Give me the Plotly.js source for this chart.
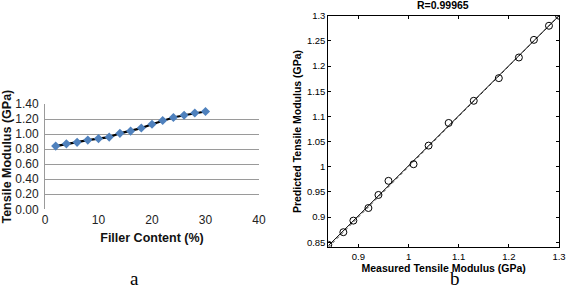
<!DOCTYPE html>
<html>
<head>
<meta charset="utf-8">
<script src="https://cdn.plot.ly/plotly-3.0.1.min.js"></script>
<style>html,body{margin:0;padding:0;background:#fff;}#chart{width:566px;height:291px;}</style>
</head>
<body>
<div id="chart"></div>
<script>
// Panel a: filler content vs tensile modulus
const fillerContent = [2, 4, 6, 8, 10, 12, 14, 16, 18, 20, 22, 24, 26, 28, 30];
const tensileModulus = [0.84, 0.87, 0.89, 0.92, 0.94, 0.96, 1.01, 1.04, 1.08, 1.13, 1.18, 1.22, 1.25, 1.28, 1.30];
const aYTicks = [0, 0.2, 0.4, 0.6, 0.8, 1.0, 1.2, 1.4];
const aXTicks = [0, 10, 20, 30, 40];

// Panel b: measured vs predicted
const measured = [0.84, 0.87, 0.89, 0.92, 0.94, 0.96, 1.01, 1.04, 1.08, 1.13, 1.18, 1.22, 1.25, 1.28, 1.30];
const predicted = [0.845, 0.870, 0.893, 0.918, 0.944, 0.972, 1.005, 1.042, 1.087, 1.131, 1.176, 1.217, 1.252, 1.280, 1.300];
const fitX = [0.84, 1.30];
const fitY = [0.843, 1.300];
const idealX = [0.84, 1.30];
const idealY = [0.84, 1.30];
const bXTicks = [0.9, 1.0, 1.1, 1.2, 1.3];
const bXLabels = ['0.9', '1', '1.1', '1.2', '1.3'];
const bYTicks = [0.85, 0.9, 0.95, 1.0, 1.05, 1.1, 1.15, 1.2, 1.25, 1.3];
const bYLabels = ['0.85', '0.9', '0.95', '1', '1.05', '1.1', '1.15', '1.2', '1.25', '1.3'];

const W = 566, H = 291;
const px = v => v / W;
const py = v => (H - v) / H;

const traces = [
  {x: fillerContent, y: tensileModulus, xaxis: 'x', yaxis: 'y', mode: 'lines+markers',
   line: {color: '#000', width: 2.2},
   marker: {symbol: 'diamond', size: 7, color: '#4f81bd', line: {width: 0}}, hoverinfo: 'none'},
  {x: idealX, y: idealY, xaxis: 'x2', yaxis: 'y2', mode: 'lines',
   line: {color: '#444', width: 1, dash: 'dot'}, hoverinfo: 'none'},
  {x: fitX, y: fitY, xaxis: 'x2', yaxis: 'y2', mode: 'lines',
   line: {color: '#000', width: 1}, hoverinfo: 'none'},
  {x: measured, y: predicted, xaxis: 'x2', yaxis: 'y2', mode: 'markers',
   marker: {symbol: 'circle-open', size: 7, color: '#000', line: {width: 1, color: '#000'}}, hoverinfo: 'none'}
];

const fontA = {family: 'Liberation Sans, Arial, sans-serif', size: 12, color: '#222'};
const fontB = {family: 'Liberation Sans, Arial, sans-serif', size: 9.5, color: '#000'};

const layout = {
  width: W, height: H,
  margin: {l: 0, r: 0, t: 0, b: 0},
  paper_bgcolor: '#fff', plot_bgcolor: 'rgba(0,0,0,0)',
  showlegend: false,
  xaxis: {
    domain: [px(45), px(259)], anchor: 'y',
    range: [0, 40], tickvals: aXTicks, ticks: '', showgrid: false, zeroline: false,
    showline: false, tickfont: fontA, ticklabelstandoff: 2,
    title: {text: '<b>Filler Content (%)</b>', font: {family: fontA.family, size: 12.5, color: '#111'}, standoff: 6}
  },
  yaxis: {
    domain: [py(209.3), py(104)], anchor: 'x',
    range: [0, 1.4], tickvals: aYTicks, tickformat: '.2f', ticks: '',
    showgrid: true, gridcolor: '#9a9a9a', gridwidth: 1, zeroline: false,
    showline: true, linecolor: '#9a9a9a', linewidth: 1, tickfont: fontA, ticklabelstandoff: 3,
    title: {text: '<b>Tensile Modulus (GPa)</b>', font: {family: fontA.family, size: 12.5, color: '#111'}, standoff: 2}
  },
  xaxis2: {
    domain: [px(328.3), px(559)], anchor: 'y2',
    range: [0.84, 1.30], tickvals: bXTicks, ticktext: bXLabels,
    ticks: 'inside', ticklen: 3, tickcolor: '#000', mirror: 'ticks',
    showline: true, linecolor: '#000', linewidth: 1, showgrid: false, zeroline: false,
    tickfont: fontB,
    title: {text: '<b>Measured Tensile Modulus (GPa)</b>', font: {family: fontB.family, size: 10.5, color: '#000'}, standoff: 1}
  },
  yaxis2: {
    domain: [py(247.3), py(15.7)], anchor: 'x2',
    range: [0.84, 1.30], tickvals: bYTicks, ticktext: bYLabels,
    ticks: 'inside', ticklen: 3, tickcolor: '#000', mirror: 'ticks',
    showline: true, linecolor: '#000', linewidth: 1, showgrid: false, zeroline: false,
    tickfont: fontB,
    title: {text: '<b>Predicted Tensile Modulus (GPa)</b>', font: {family: fontB.family, size: 10.5, color: '#000'}, standoff: 3}
  },
  annotations: [
    {text: '<b>R=0.99965</b>', xref: 'paper', yref: 'paper', x: px(443), y: py(5), xanchor: 'center', yanchor: 'middle',
     showarrow: false, font: {family: fontB.family, size: 10.5, color: '#000'}},
    {text: 'a', xref: 'paper', yref: 'paper', x: px(134), y: 0, xanchor: 'center', yanchor: 'bottom',
     showarrow: false, font: {family: 'Liberation Serif, Times New Roman, serif', size: 19, color: '#000'}},
    {text: 'b', xref: 'paper', yref: 'paper', x: px(454.5), y: 0, xanchor: 'center', yanchor: 'bottom',
     showarrow: false, font: {family: 'Liberation Serif, Times New Roman, serif', size: 19, color: '#000'}}
  ]
};

Plotly.newPlot('chart', traces, layout, {staticPlot: true, displayModeBar: false});
</script>
</body>
</html>
